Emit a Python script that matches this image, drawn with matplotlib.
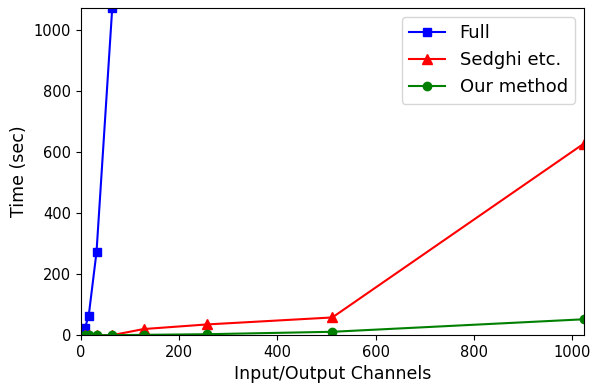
import matplotlib
matplotlib.use('Agg')
import matplotlib.pyplot as plt

full_x = [8, 16, 32, 64]
full_y = [22, 62, 272, 1072]

sedghi_x = [8, 16, 32, 64, 128, 256, 512, 1024]
sedghi_y = [0, 0, 0, 0, 20, 35, 58, 628]

ours_x = [8, 16, 32, 64, 128, 256, 512, 1024]
ours_y = [0, 0, 0, 0, 1, 3, 11, 52]

fig = plt.figure(figsize=(5.94, 3.87), dpi=100)
ax = fig.add_axes([0.136, 0.134, 0.847, 0.845])

ax.plot(full_x, full_y, color='blue', marker='s', markersize=6, label='Full')
ax.plot(sedghi_x, sedghi_y, color='red', marker='^', markersize=7, label='Sedghi etc.')
ax.plot(ours_x, ours_y, color='green', marker='o', markersize=6, label='Our method')

ax.set_xlim(0, 1024)
ax.set_ylim(0, 1072)
ax.set_xlabel('Input/Output Channels', fontsize=12.5)
ax.set_ylabel('Time (sec)', fontsize=12.5)
ax.tick_params(labelsize=10.5)
ax.legend(loc='upper right', fontsize=13)

fig.savefig('out.png', dpi=100)
